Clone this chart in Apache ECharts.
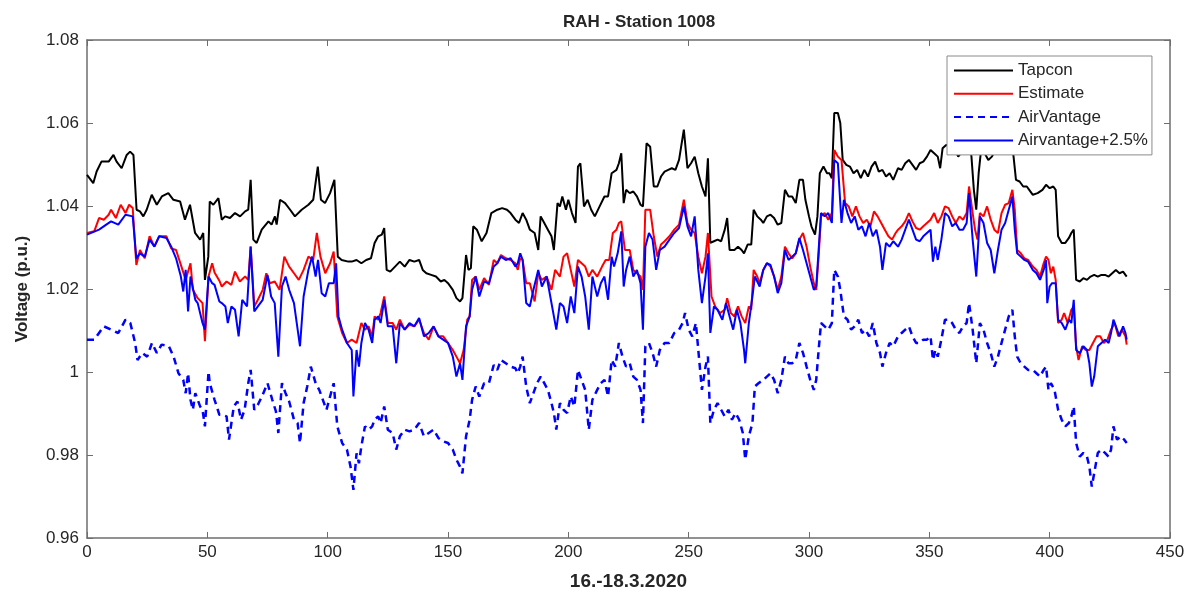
<!DOCTYPE html>
<html>
<head>
<meta charset="utf-8">
<title>RAH - Station 1008</title>
<script src="https://cdn.jsdelivr.net/npm/echarts@6/dist/echarts.min.js"></script>
<style>
    html, body { margin: 0; padding: 0; background: #fff; }
    #chart { width: 1189px; height: 597px; }
</style>
</head>
<body>
<div id="chart"></div>
<script>
// values (sample index, voltage p.u.)
let tapconT = [0, 2.6, 4, 6, 9, 11, 12.3, 14.4, 16.5, 17.9, 19.3, 20.6, 22, 23.4, 24.8, 26.9, 29, 31.1, 33.8, 35.9, 38.7, 40.7, 42.8, 44.9, 47, 48.3, 49, 50.4, 51, 52.5, 54.6, 56,
    57.4, 59.4, 61.5, 63.6, 65.7, 67, 68, 69.1, 70.5, 72.6, 75.4, 76.7, 78.1, 78.8, 80.2, 82.3, 84.4, 86.4, 89.2, 92, 94, 95.9, 97.2, 98.9, 101, 102.8, 104.2, 105.8, 108.6,
    110, 112, 114, 116, 118, 119.5, 121, 122.5, 123.5, 124.5, 126, 128, 130, 132, 134, 136, 138, 139.5, 141, 143, 145, 147, 148.5, 150, 152, 153.5, 155, 156, 157.5, 158.5, 159.5, 160.5, 162, 164, 166, 168,
    170.5, 172.5, 174.5, 176, 178, 179.5, 181, 182.5, 184, 186, 187.5, 188.5, 190, 191.5, 193, 194, 195.5, 196.5, 197.5, 199, 200, 201.5, 203, 204, 205, 206.5, 208, 209.5, 211, 213, 215, 216.5, 218, 220, 221, 222,
    223, 224, 225.5, 227, 228.5, 230, 231, 232.5, 234, 235.5, 237, 238.5, 240, 241.5, 243, 244.5, 246, 248, 249.5, 251, 252.5, 254, 255.5, 257, 258, 259, 260.5, 262, 263.5, 265, 266, 267, 269, 270.5, 272, 273, 274.5, 276, 277, 278.5,
    280, 281, 282.5, 284, 285.5, 287, 288.5, 290, 291.5, 293, 294.5, 296, 297.5, 298.5, 300, 301, 302.5, 303.5, 304.5, 306, 307.5, 308.5, 309.5, 310.5, 312, 313, 314, 315.5, 317, 318.5, 320, 321.5, 323, 324.5, 326, 327.5, 329, 330.5, 332, 333.5,
    335, 337, 338.5, 340, 341.5, 343, 344.5, 346, 347.5, 349, 350.5, 352, 353.5, 354.5, 355.5, 357, 360, 362, 363.5, 365, 366.5, 367.5, 368.5, 369.5, 370.5, 371.5, 373, 374.5, 376, 377.5, 379, 380.5, 382, 384, 385, 386, 387.5, 389,
    390.5, 391.5, 393, 395, 397, 398.5, 400, 401.5, 402.5, 403.5, 405, 406.5, 408, 409, 410, 411, 412.5, 414, 415.5, 417, 418.5, 420, 421.5, 423, 424.5, 426, 427.5, 429, 430.5, 432];
let tapcon = [1.0475, 1.0455, 1.0483, 1.0507, 1.0507, 1.0523, 1.0507, 1.0491, 1.0523, 1.0531, 1.0523, 1.0391, 1.0387, 1.0375, 1.0391, 1.0427, 1.0403, 1.0423, 1.0431, 1.0415, 1.0411, 1.0367, 1.0403, 1.0335, 1.0319, 1.0335, 1.0222, 1.0278, 1.0411, 1.0403, 1.0419, 1.0367,
    1.0375, 1.0371, 1.0383, 1.0375, 1.0387, 1.0391, 1.0463, 1.0319, 1.0311, 1.0343, 1.0363, 1.0355, 1.0375, 1.0355, 1.0415, 1.0407, 1.0391, 1.0375, 1.0391, 1.0403, 1.0415, 1.0495, 1.0415, 1.0407, 1.0431, 1.0463, 1.0278, 1.0270, 1.0266,
    1.0266, 1.0270, 1.0262, 1.0270, 1.0274, 1.0311, 1.0327, 1.0331, 1.0347, 1.0246, 1.0242, 1.0254, 1.0266, 1.0254, 1.0270, 1.0266, 1.0270, 1.0246, 1.0238, 1.0234, 1.0230, 1.0218, 1.0222, 1.0214, 1.0198, 1.0178, 1.0170, 1.0178, 1.0282, 1.0246, 1.0250, 1.0351, 1.0343, 1.0315, 1.0335, 1.0383,
    1.0391, 1.0395, 1.0391, 1.0383, 1.0367, 1.0359, 1.0383, 1.0367, 1.0343, 1.0335, 1.0294, 1.0375, 1.0359, 1.0343, 1.0327, 1.0294, 1.0407, 1.0399, 1.0423, 1.0391, 1.0415, 1.0383, 1.0359, 1.0495, 1.0503, 1.0399, 1.0415, 1.0391, 1.0375, 1.0399, 1.0423, 1.0423, 1.0479, 1.0487, 1.0503, 1.0527,
    1.0407, 1.0439, 1.0431, 1.0435, 1.0423, 1.0403, 1.0399, 1.0551, 1.0543, 1.0447, 1.0447, 1.0471, 1.0483, 1.0487, 1.0491, 1.0487, 1.0511, 1.0584, 1.0491, 1.0503, 1.0519, 1.0479, 1.0447, 1.0423, 1.0515, 1.0311, 1.0315, 1.0319, 1.0315, 1.0343, 1.0371, 1.0294, 1.0294, 1.0302, 1.0294, 1.0286, 1.0307, 1.0307, 1.0391, 1.0375,
    1.0367, 1.0359, 1.0375, 1.0379, 1.0371, 1.0355, 1.0359, 1.0439, 1.0423, 1.0423, 1.0407, 1.0463, 1.0463, 1.0415, 1.0375, 1.0351, 1.0331, 1.0375, 1.0479, 1.0495, 1.0479, 1.0479, 1.0467, 1.0624, 1.0624, 1.0600, 1.0511, 1.0499, 1.0495, 1.0479, 1.0487, 1.0467, 1.0487, 1.0471, 1.0495, 1.0507, 1.0483, 1.0487, 1.0471, 1.0479,
    1.0463, 1.0491, 1.0487, 1.0503, 1.0511, 1.0499, 1.0487, 1.0503, 1.0507, 1.0519, 1.0535, 1.0527, 1.0519, 1.0491, 1.0539, 1.0547, 1.0543, 1.0519, 1.0531, 1.0551, 1.0560, 1.0519, 1.0439, 1.0391, 1.0479, 1.0535, 1.0527, 1.0511, 1.0519, 1.0535, 1.0543, 1.0560, 1.0576, 1.0560, 1.0519, 1.0463, 1.0459, 1.0447,
    1.0447, 1.0439, 1.0427, 1.0431, 1.0439, 1.0451, 1.0443, 1.0447, 1.0439, 1.0327, 1.0311, 1.0311, 1.0323, 1.0335, 1.0343, 1.0222, 1.0218, 1.0226, 1.0222, 1.0230, 1.0234, 1.0230, 1.0234, 1.0234, 1.0230, 1.0238, 1.0246, 1.0238, 1.0242, 1.0230];

let estimateT = [0, 3, 5, 7, 9, 10, 12, 14, 16, 17.5, 19, 20.5, 22, 24, 26, 28, 30, 33, 35, 37, 39, 41, 43, 44, 46, 48, 49, 50.5, 52, 53, 55, 56, 58, 60, 61.5, 63.5, 65.7, 67, 68, 69.5, 71, 73, 74.5, 76, 78, 80, 82, 84, 86, 88, 90, 92, 94, 95.5, 97, 99, 101, 102.5, 104, 106, 108,
    110, 112, 114, 115.5, 117, 118.5, 119.5, 121, 122, 123.5, 125, 127, 128.5, 130, 132, 134, 136, 138, 140, 142, 144, 146, 148, 150, 152, 153.5, 155, 156.5, 158, 159, 160, 161.5, 163, 165, 167, 169,
    170.5, 172, 174, 176, 178, 179, 180, 181, 182.5, 184, 186, 187.5, 189, 191, 193, 194.5, 196.5, 198, 199.5, 201, 202.5, 204, 205.5, 207, 208.5, 210, 212, 214, 215.5, 217, 218.5, 220, 221, 222, 223.5, 225.5, 227, 228.5, 230, 231, 232, 234, 235.5, 237, 238.5, 240, 242, 244, 246, 248, 249.5, 251, 252.5, 254, 255.5, 257, 258,
    259.5, 261, 263, 265, 266, 267.5, 269, 270.5, 272, 273.5, 275, 276, 277, 278.5, 279.5, 281, 282.5, 284, 285.5, 287, 288.5, 290, 291.5, 293, 294.5, 296, 297.5, 299, 300.5, 302, 303, 304, 305, 306.5, 308, 309.5, 310.5, 312, 313.5, 315, 316.5, 318, 319.5, 321, 322.5, 324, 325.5, 327, 328.5, 330, 331.5, 333, 334.5, 336,
    337, 338.5, 340, 341.5, 343, 344.5, 346, 347.5, 349, 350.5, 352, 353.5, 355, 356.5, 358, 359.5, 361, 362.5, 364, 365.5, 366.5, 368, 369, 370, 371, 372.5, 374, 375.5, 377, 378.5, 380, 381.5, 383, 384.5, 385.5, 386.5, 388, 389.5, 391,
    393, 394.5, 396, 397.5, 398.5, 399.5, 400.5, 401.5, 402.5, 403.5, 405, 406, 407.5, 409, 410, 411, 412, 413.5, 415, 416.5, 418, 419.5, 421, 422.5, 424, 425.5, 427, 428.5, 430, 431.5, 432];
let estimate = [1.0335, 1.0339, 1.0371, 1.0367, 1.0379, 1.0391, 1.0371, 1.0403, 1.0383, 1.0403, 1.0395, 1.0258, 1.0294, 1.0274, 1.0327, 1.0302, 1.0327, 1.0327, 1.0298, 1.0294, 1.0258, 1.0222, 1.0262, 1.0198, 1.0178, 1.0166, 1.0074, 1.0230, 1.0262, 1.0240, 1.0220, 1.0206, 1.0218, 1.0210, 1.0242, 1.0218, 1.0230, 1.0222, 1.0302, 1.0158, 1.0174, 1.0198, 1.0238, 1.0214, 1.0218, 1.0198, 1.0278, 1.0254, 1.0238, 1.0222, 1.0246, 1.0278, 1.0270, 1.0335, 1.0278, 1.0238, 1.0262, 1.0290, 1.0134, 1.0094, 1.0070,
    1.0078, 1.0070, 1.0118, 1.0102, 1.0110, 1.0086, 1.0134, 1.0126, 1.0142, 1.0182, 1.0118, 1.0118, 1.0102, 1.0126, 1.0102, 1.0114, 1.0110, 1.0126, 1.0094, 1.0078, 1.0110, 1.0086, 1.0086, 1.0070, 1.0053, 1.0037, 1.0021, 1.0053, 1.0126, 1.0134, 1.0222, 1.0230, 1.0198, 1.0226, 1.0210, 1.0270,
    1.0262, 1.0282, 1.0274, 1.0270, 1.0262, 1.0246, 1.0274, 1.0270, 1.0214, 1.0214, 1.0170, 1.0238, 1.0222, 1.0230, 1.0198, 1.0246, 1.0230, 1.0278, 1.0286, 1.0246, 1.0206, 1.0270, 1.0262, 1.0254, 1.0230, 1.0246, 1.0230, 1.0254, 1.0270, 1.0270, 1.0335, 1.0343, 1.0359, 1.0363, 1.0294, 1.0294, 1.0246, 1.0238, 1.0230, 1.0198, 1.0391, 1.0391, 1.0327, 1.0278, 1.0307, 1.0315, 1.0327, 1.0343, 1.0355, 1.0415, 1.0359, 1.0343, 1.0335, 1.0278, 1.0238, 1.0278, 1.0335,
    1.0182, 1.0158, 1.0142, 1.0150, 1.0178, 1.0142, 1.0134, 1.0158, 1.0134, 1.0118, 1.0158, 1.0150, 1.0246, 1.0230, 1.0214, 1.0246, 1.0262, 1.0254, 1.0230, 1.0198, 1.0230, 1.0302, 1.0286, 1.0274, 1.0286, 1.0319, 1.0335, 1.0302, 1.0254, 1.0214, 1.0198, 1.0278, 1.0375, 1.0383, 1.0367, 1.0383, 1.0535, 1.0519, 1.0511, 1.0407, 1.0399, 1.0375, 1.0399, 1.0375, 1.0359, 1.0367, 1.0351, 1.0387, 1.0375, 1.0359, 1.0343, 1.0327, 1.0319, 1.0335,
    1.0343, 1.0351, 1.0363, 1.0383, 1.0363, 1.0347, 1.0343, 1.0351, 1.0359, 1.0367, 1.0383, 1.0359, 1.0375, 1.0399, 1.0395, 1.0375, 1.0359, 1.0375, 1.0367, 1.0383, 1.0447, 1.0383, 1.0343, 1.0319, 1.0383, 1.0375, 1.0399, 1.0367, 1.0343, 1.0335, 1.0383, 1.0403, 1.0407, 1.0439, 1.0391, 1.0294, 1.0286, 1.0274, 1.0270,
    1.0254, 1.0246, 1.0230, 1.0262, 1.0278, 1.0270, 1.0238, 1.0254, 1.0222, 1.0118, 1.0126, 1.0142, 1.0118, 1.0150, 1.0158, 1.0062, 1.0029, 1.0062, 1.0053, 1.0053, 1.0070, 1.0086, 1.0086, 1.0070, 1.0078, 1.0102, 1.0118, 1.0086, 1.0102, 1.0086, 1.0066];

let airVantageT = [0, 3, 5, 7, 10, 13, 16, 18, 20, 21, 23, 25, 27, 29, 31, 34, 36, 38, 40, 41, 42, 43, 44, 45, 47, 48, 49, 50.5, 51, 53, 55, 56, 58, 59, 61, 62.5, 64, 65.5, 67, 68, 69.5, 71, 73, 75, 77, 78.5, 79.5, 81, 82.5, 84, 86, 87.5, 88.5, 90, 91.5, 93, 95, 96.5, 98, 99.5, 101, 102.5, 104, 106, 108, 109.5,
    110.7, 112, 113, 114, 115.5, 117, 118.5, 119.5, 121, 122, 123.5, 125, 127, 128.5, 130, 132, 134, 136, 138, 140, 142, 144, 146, 148, 150, 152, 153.5, 155, 156, 157.5, 159, 160, 161.5, 163, 165, 167, 169,
    170.5, 172, 174, 176, 178, 179, 180, 181, 182.5, 184, 185.5, 187, 188.5, 190, 191.5, 193, 194, 195, 196.5, 198, 199.5, 201, 202.5, 204, 205.5, 207, 208.5, 210, 212, 213.5, 215, 216.5, 218, 219.5, 221, 222.5, 224, 225.5, 227, 228.5, 230, 231, 232, 233.5, 235, 236.5, 238, 240, 242, 244, 246, 247.5, 248.5, 250, 251.5, 253, 254, 255.5, 257, 258,
    259, 260.5, 262, 263.5, 265, 266.5, 268, 269.5, 271, 272.5, 273.5, 275, 276.5, 277.5, 279, 281, 282.5, 284, 285.5, 287, 288.5, 290, 291.5, 293, 294.5, 296, 297.5, 299, 300.5, 302, 303, 304, 305, 306.5, 308, 309.5, 310.5, 312, 313, 314.5, 316, 317.5, 319, 320.5, 322, 323.5, 325, 326.5, 328, 329.5, 330.5, 332, 333.5,
    335, 337, 338.5, 340, 341.5, 343, 344.5, 346, 347.5, 349, 350.5, 351.5, 352.5, 353.5, 355, 356.5, 358, 359.5, 361, 362.5, 364, 365.5, 366.5, 368, 369.5, 371, 372.5, 374, 375.5, 377, 378.5, 380, 381.5, 383, 384.5, 385.5, 386.5, 388, 389.5, 391,
    393, 394.5, 396, 397.5, 398.5, 399.5, 400.5, 402, 403.5, 405, 406.5, 408, 409, 410, 411, 412.5, 414, 415.5, 416.5, 417.5, 418.5, 420, 421.5, 423, 424.5, 425.5, 426.5, 428, 429.5, 431, 432];
let airVantage = [1.0078, 1.0078, 1.0094, 1.0110, 1.0102, 1.0094, 1.0126, 1.0118, 1.0070, 1.0029, 1.0046, 1.0037, 1.0070, 1.0046, 1.0066, 1.0062, 1.0037, 0.9997, 0.9981, 0.9949, 0.9997, 0.9933, 0.9909, 0.9949, 0.9917, 0.9909, 0.9869, 1.0001, 0.9973, 0.9933, 0.9897, 0.9897, 0.9893, 0.9837, 0.9917, 0.9929, 0.9885, 0.9909, 0.9973, 1.0005, 0.9909, 0.9921, 0.9945, 0.9973, 0.9933, 0.9905, 0.9853, 0.9973, 0.9949, 0.9929, 0.9885, 0.9877, 0.9829, 0.9925, 0.9965, 1.0013, 0.9973, 0.9957, 0.9933, 0.9909, 0.9941, 0.9973, 0.9869, 0.9829, 0.9813, 0.9772,
    0.9716, 0.9804, 0.9780, 0.9821, 0.9869, 0.9861, 0.9869, 0.9885, 0.9893, 0.9877, 0.9917, 0.9861, 0.9853, 0.9813, 0.9845, 0.9861, 0.9857, 0.9861, 0.9877, 0.9845, 0.9853, 0.9861, 0.9841, 0.9833, 0.9829, 0.9813, 0.9789, 0.9772, 0.9756, 0.9845, 0.9885, 0.9933, 0.9965, 0.9941, 0.9973, 0.9973, 1.0017,
    1.0005, 1.0029, 1.0021, 1.0013, 1.0009, 0.9997, 1.0013, 1.0037, 0.9965, 0.9925, 0.9949, 0.9973, 0.9989, 0.9973, 0.9957, 0.9925, 0.9901, 0.9861, 0.9925, 0.9909, 0.9901, 0.9941, 0.9917, 1.0005, 0.9981, 0.9957, 0.9861, 0.9933, 0.9957, 0.9973, 0.9981, 0.9941, 1.0029, 1.0013, 1.0070, 1.0037, 1.0013, 1.0021, 0.9989, 0.9981, 0.9957, 0.9877, 1.0062, 1.0070, 1.0046, 1.0013, 1.0053, 1.0070, 1.0070, 1.0094, 1.0102, 1.0118, 1.0142, 1.0102, 1.0086, 1.0118, 1.0053, 0.9957, 1.0013, 1.0037,
    0.9877, 0.9909, 0.9925, 0.9909, 0.9893, 0.9909, 0.9885, 0.9901, 0.9885, 0.9853, 0.9789, 0.9845, 0.9877, 0.9965, 0.9973, 0.9981, 0.9989, 0.9997, 0.9981, 0.9949, 0.9981, 1.0037, 1.0021, 1.0021, 1.0029, 1.0070, 1.0046, 1.0013, 0.9981, 0.9957, 0.9981, 1.0053, 1.0118, 1.0110, 1.0102, 1.0118, 1.0246, 1.0230, 1.0198, 1.0134, 1.0126, 1.0102, 1.0110, 1.0126, 1.0094, 1.0102, 1.0086, 1.0118, 1.0070, 1.0046, 1.0013, 1.0046, 1.0070,
    1.0062, 1.0086, 1.0094, 1.0102, 1.0110, 1.0086, 1.0070, 1.0070, 1.0078, 1.0078, 1.0086, 1.0029, 1.0053, 1.0037, 1.0078, 1.0126, 1.0126, 1.0118, 1.0102, 1.0094, 1.0110, 1.0118, 1.0166, 1.0102, 1.0021, 1.0118, 1.0102, 1.0070, 1.0046, 1.0013, 1.0037, 1.0070, 1.0102, 1.0134, 1.0150, 1.0086, 1.0037, 1.0021, 1.0013, 1.0005,
    1.0005, 0.9997, 0.9989, 1.0005, 1.0013, 0.9957, 0.9973, 0.9957, 0.9909, 0.9885, 0.9869, 0.9877, 0.9893, 0.9917, 0.9829, 0.9796, 0.9805, 0.9796, 0.9772, 0.9724, 0.9756, 0.9805, 0.9813, 0.9805, 0.9796, 0.9813, 0.9869, 0.9837, 0.9845, 0.9837, 0.9829];

let plusT = [0, 5, 8, 10, 13, 16, 19, 20.5, 22, 24, 26, 28, 30, 33, 35, 37, 39, 40, 41, 42, 43, 45, 46, 48, 49, 50.5, 52, 53, 55, 56, 57.5, 58.5, 60, 61.5, 63, 64.5, 66.5, 68, 69.5, 71, 73, 75, 76.5, 78, 79.5, 81, 82.5, 84, 86, 88.5, 90, 92, 93.5, 95, 96, 97.5, 99, 100.5, 102.5, 103.5, 104.5, 106, 108, 110,
    110.7, 112, 113, 114, 115.5, 117, 118.5, 119.5, 121, 122, 123.5, 125, 127, 128.5, 130, 132, 134, 136, 138, 140, 142, 144, 146, 148, 150, 152, 153.5, 155, 156, 157.5, 159, 160, 161.5, 163, 165, 167, 169,
    170.5, 172, 174, 176, 178, 179, 180, 181, 182.5, 184, 185.5, 187.5, 189, 191, 192.5, 194, 195, 196.5, 198, 199.5, 201, 202.5, 204, 205.5, 207, 208.5, 210, 212, 213.5, 215, 216.5, 218, 219, 220.5, 222, 223, 224, 225.5, 227, 228.5, 230, 231, 232, 233.5, 235, 236.5, 238, 240, 242, 244, 246, 248, 249.5, 251, 252.5, 254, 255.5, 257, 258,
    259, 260.5, 262, 264, 265.5, 267, 268.5, 270, 271.5, 273, 273.5, 275, 276.5, 277.5, 279.5, 281, 282.5, 284, 285.5, 287, 288.5, 290, 291.5, 293, 294.5, 296, 297.5, 299, 300.5, 302, 303, 304, 305, 306.5, 308, 309.5, 310.5, 312, 313.5, 314.5, 316, 317.5, 319, 320.5, 322, 323.5, 325, 326.5, 328, 329.5, 330.5, 332, 333.5,
    335, 337, 338.5, 340, 341.5, 343, 344.5, 346, 347.5, 349, 350.5, 351.5, 352.5, 353.5, 355, 356.5, 358, 359.5, 361, 362.5, 364, 365.5, 366.5, 368, 369.5, 371, 372.5, 374, 375.5, 377, 378.5, 380, 381.5, 383, 384.5, 385.5, 386.5, 388, 389.5, 391,
    393, 394.5, 396, 397.5, 398.5, 399, 400, 401, 402.5, 403.5, 405, 406.5, 408, 409, 410, 411, 412.5, 414, 415.5, 416.5, 417.5, 418.5, 420, 421.5, 423, 424.5, 425.5, 426.5, 428, 429, 430.5, 431.5, 432];
let plus = [1.0331, 1.0343, 1.0355, 1.0363, 1.0355, 1.0379, 1.0375, 1.0274, 1.0286, 1.0278, 1.0319, 1.0302, 1.0327, 1.0323, 1.0302, 1.0274, 1.0230, 1.0194, 1.0246, 1.0146, 1.0230, 1.0174, 1.0166, 1.0118, 1.0102, 1.0230, 1.0214, 1.0210, 1.0170, 1.0166, 1.0158, 1.0118, 1.0158, 1.0150, 1.0086, 1.0174, 1.0158, 1.0302, 1.0146, 1.0158, 1.0174, 1.0234, 1.0182, 1.0166, 1.0037, 1.0206, 1.0230, 1.0198, 1.0166, 1.0062, 1.0182, 1.0246, 1.0278, 1.0230, 1.0270, 1.0190, 1.0182, 1.0214, 1.0214, 1.0262, 1.0134, 1.0102, 1.0070, 1.0053,
    0.9941, 1.0053, 1.0013, 1.0070, 1.0118, 1.0102, 1.0070, 1.0126, 1.0134, 1.0118, 1.0174, 1.0110, 1.0110, 1.0021, 1.0118, 1.0102, 1.0118, 1.0110, 1.0130, 1.0086, 1.0094, 1.0110, 1.0086, 1.0078, 1.0070, 1.0037, 0.9989, 1.0021, 0.9981, 1.0110, 1.0134, 1.0198, 1.0230, 1.0182, 1.0218, 1.0214, 1.0254,
    1.0262, 1.0278, 1.0270, 1.0274, 1.0254, 1.0262, 1.0286, 1.0270, 1.0166, 1.0158, 1.0198, 1.0246, 1.0206, 1.0230, 1.0182, 1.0134, 1.0102, 1.0166, 1.0158, 1.0118, 1.0182, 1.0142, 1.0254, 1.0230, 1.0182, 1.0102, 1.0230, 1.0182, 1.0214, 1.0230, 1.0174, 1.0278, 1.0254, 1.0286, 1.0339, 1.0206, 1.0246, 1.0278, 1.0230, 1.0246, 1.0214, 1.0102, 1.0302, 1.0335, 1.0319, 1.0246, 1.0294, 1.0302, 1.0319, 1.0335, 1.0347, 1.0399, 1.0351, 1.0327, 1.0375, 1.0246, 1.0166, 1.0230, 1.0286,
    1.0094, 1.0158, 1.0150, 1.0126, 1.0166, 1.0134, 1.0102, 1.0150, 1.0118, 1.0053, 1.0021, 1.0118, 1.0182, 1.0230, 1.0206, 1.0246, 1.0262, 1.0258, 1.0230, 1.0190, 1.0214, 1.0294, 1.0270, 1.0278, 1.0286, 1.0323, 1.0294, 1.0262, 1.0230, 1.0198, 1.0206, 1.0294, 1.0383, 1.0375, 1.0383, 1.0359, 1.0511, 1.0503, 1.0359, 1.0415, 1.0383, 1.0359, 1.0375, 1.0343, 1.0351, 1.0327, 1.0359, 1.0327, 1.0343, 1.0302, 1.0246, 1.0311, 1.0302,
    1.0315, 1.0302, 1.0319, 1.0343, 1.0367, 1.0343, 1.0319, 1.0315, 1.0327, 1.0335, 1.0343, 1.0266, 1.0302, 1.0270, 1.0319, 1.0383, 1.0375, 1.0351, 1.0359, 1.0343, 1.0343, 1.0359, 1.0431, 1.0319, 1.0230, 1.0375, 1.0359, 1.0311, 1.0294, 1.0238, 1.0294, 1.0343, 1.0359, 1.0391, 1.0423, 1.0343, 1.0286, 1.0278, 1.0270, 1.0266,
    1.0246, 1.0238, 1.0222, 1.0246, 1.0270, 1.0166, 1.0206, 1.0214, 1.0214, 1.0126, 1.0118, 1.0102, 1.0126, 1.0118, 1.0174, 1.0053, 1.0045, 1.0062, 1.0053, 1.0021, 0.9965, 0.9989, 1.0062, 1.0070, 1.0078, 1.0070, 1.0094, 1.0126, 1.0102, 1.0086, 1.0110, 1.0094, 1.0078];

let xTicks = { min: 0, max: 450, step: 50 };
let yTicks = { min: 0.96, max: 1.08, step: 0.02 };

function pairs(ts, vs) {
    return ts.map((t, i) => [t, vs[i]]);
}

let font = "'Liberation Sans', Arial, sans-serif";
let ink = '#262626';
let frame = '#6e6e6e';

// MATLAB style box: ticks inside, on all four sides
function xAxis(pos, withLabels) {
    return {
        type: 'value', position: pos, min: xTicks.min, max: xTicks.max, interval: xTicks.step,
        name: withLabels ? '16.-18.3.2020' : '',
        nameLocation: 'middle', nameGap: 34,
        nameTextStyle: { fontFamily: font, fontSize: 19, fontWeight: 'bold', color: ink },
        axisLine: { show: true, onZero: false, lineStyle: { color: frame, width: 1.5 } },
        axisTick: { show: true, inside: true, length: 6, lineStyle: { color: frame } },
        axisLabel: { show: withLabels, fontFamily: font, fontSize: 17, color: ink, margin: 6 },
        splitLine: { show: false }
    };
}
function yAxis(pos, withLabels) {
    return {
        type: 'value', position: pos, min: yTicks.min, max: yTicks.max, interval: yTicks.step,
        name: withLabels ? 'Voltage (p.u.)' : '',
        nameLocation: 'middle', nameGap: 56,
        nameTextStyle: { fontFamily: font, fontSize: 17, fontWeight: 'bold', color: ink },
        axisLine: { show: true, onZero: false, lineStyle: { color: frame, width: 1.5 } },
        axisTick: { show: true, inside: true, length: 6, lineStyle: { color: frame } },
        axisLabel: {
            show: withLabels, fontFamily: font, fontSize: 17, color: ink, margin: 8,
            formatter: v => String(parseFloat(v.toFixed(2)))
        },
        splitLine: { show: false }
    };
}

let chart = echarts.init(document.getElementById('chart'), null, { renderer: 'canvas' });
chart.setOption({
    animation: false,
    backgroundColor: '#fff',
    title: {
        text: 'RAH - Station 1008', left: 558, top: 9,
        textStyle: { fontFamily: font, fontSize: 17, fontWeight: 'bold', color: ink }
    },
    grid: { left: 87, right: 19, top: 40, bottom: 59, containLabel: false },
    xAxis: [xAxis('bottom', true), xAxis('top', false)],
    yAxis: [yAxis('left', true), yAxis('right', false)],
    legend: {
        orient: 'vertical', left: 947, top: 56,
        padding: [6, 4, 6, 6], itemGap: 6.3, itemWidth: 59, itemHeight: 14,
        itemStyle: { opacity: 0 },
        backgroundColor: '#fff', borderColor: '#8a8a8a', borderWidth: 1,
        textStyle: { fontFamily: font, fontSize: 17, color: ink },
        data: ['Tapcon', 'Estimate', 'AirVantage', 'Airvantage+2.5%']
    },
    series: [
        { name: 'Tapcon', type: 'line', data: pairs(tapconT, tapcon), showSymbol: false, symbol: 'none',
          lineStyle: { color: '#000', width: 2 }, itemStyle: { color: '#000' } },
        { name: 'Estimate', type: 'line', data: pairs(estimateT, estimate), showSymbol: false, symbol: 'none',
          lineStyle: { color: '#ff0000', width: 2 }, itemStyle: { color: '#ff0000' } },
        { name: 'AirVantage', type: 'line', data: pairs(airVantageT, airVantage), showSymbol: false, symbol: 'none',
          lineStyle: { color: '#0000ff', width: 2.5, type: [7, 5] }, itemStyle: { color: '#0000ff' } },
        { name: 'Airvantage+2.5%', type: 'line', data: pairs(plusT, plus), showSymbol: false, symbol: 'none',
          lineStyle: { color: '#0000ff', width: 2 }, itemStyle: { color: '#0000ff' } }
    ]
});
</script>
</body>
</html>
